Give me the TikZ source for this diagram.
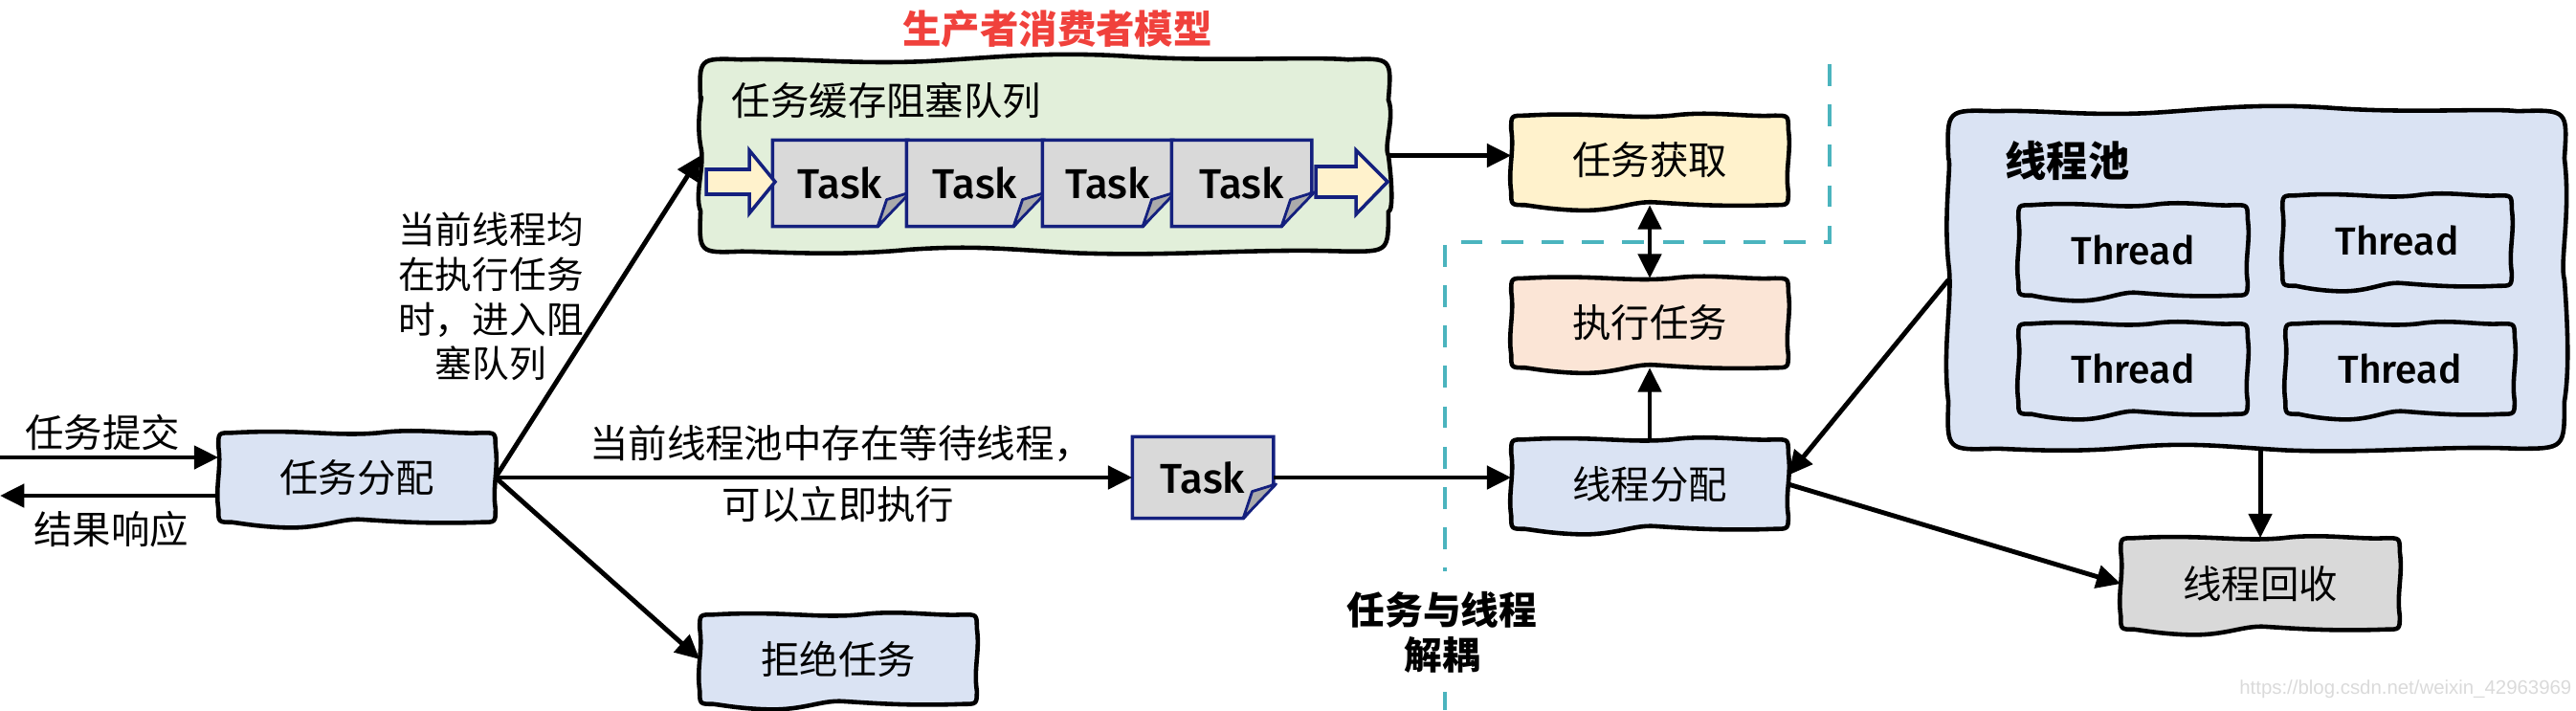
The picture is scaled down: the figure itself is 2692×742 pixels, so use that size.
\documentclass[tikz,border=0pt]{standalone}
\usepackage{fontspec}
\setmainfont{Noto Sans CJK SC}
\newfontfamily\comic{Fira Sans}[UprightFont={* Medium}]
\newfontfamily\wmfont{Liberation Sans}
\usetikzlibrary{arrows.meta,calc}
\pgfdeclarelayer{background}
\pgfsetlayers{background,main}
\definecolor{cblue}{HTML}{DAE3F3}
\definecolor{cgreen}{HTML}{E2EFDA}
\definecolor{cyellow}{HTML}{FFF2CC}
\definecolor{cpeach}{HTML}{FBE5D6}
\definecolor{cgray}{HTML}{D9D9D9}
\definecolor{navy}{HTML}{14207E}
\definecolor{tealdash}{HTML}{4BB4BE}
\definecolor{tred}{HTML}{F0413C}
\definecolor{foldgray}{HTML}{ABABAB}
\definecolor{wmgray}{HTML}{DADADA}
% hand-drawn box outline around a node
\newcommand{\skbox}[3][4pt]{%
 \path[skline, fill=#3] let \p1=(#2.south west), \p2=(#2.north east), \n1={\x2-\x1}, \n2={\y2-\y1}, \n3={#1} in
 (\x1,{\y2-\n3}) .. controls (\x1,\y2) .. ({\x1+\n3},\y2)
 .. controls ({\x1+0.3*\n1},{\y2+1.2pt}) and ({\x1+0.42*\n1},{\y2-1.2pt}) .. ({\x1+0.58*\n1},\y2)
 .. controls ({\x1+0.72*\n1},{\y2+1.5pt}) and ({\x1+0.85*\n1},{\y2-0.5pt}) .. ({\x2-\n3},\y2)
 .. controls (\x2,\y2) .. (\x2,{\y2-\n3})
 .. controls ({\x2+1pt},{\y2-0.4*\n2}) and ({\x2-1pt},{\y1+0.4*\n2}) .. (\x2,{\y1+\n3})
 .. controls (\x2,\y1) .. ({\x2-\n3},\y1)
 .. controls ({\x2-0.25*\n1},{\y1-0.6pt}) and ({\x1+0.62*\n1},{\y1+0.3pt}) .. ({\x1+0.52*\n1},{\y1+0.8pt})
 .. controls ({\x1+0.44*\n1},{\y1+1.3pt}) and ({\x1+0.38*\n1},{\y1-1.8pt}) .. ({\x1+0.25*\n1},{\y1-1.6pt})
 .. controls ({\x1+0.15*\n1},{\y1-1.4pt}) and ({\x1+0.08*\n1},{\y1-0.3pt}) .. ({\x1+\n3},\y1)
 .. controls (\x1,\y1) .. (\x1,{\y1+\n3})
 .. controls ({\x1-1pt},{\y1+0.4*\n2}) and ({\x1+1pt},{\y2-0.4*\n2}) .. (\x1,{\y2-\n3}) -- cycle;
}
% wavier outline for the large containers
\newcommand{\skbig}[3][8pt]{%
 \path[skline, fill=#3] let \p1=(#2.south west), \p2=(#2.north east), \n1={\x2-\x1}, \n2={\y2-\y1}, \n3={#1} in
 (\x1,{\y2-\n3}) .. controls ({\x1-0.5pt},{\y2+0.5pt}) .. ({\x1+\n3},\y2)
 .. controls ({\x1+0.15*\n1},{\y2+0.5pt}) and ({\x1+0.22*\n1},{\y2-1.5pt}) .. ({\x1+0.33*\n1},{\y2-0.5pt})
 .. controls ({\x1+0.42*\n1},{\y2+0.5pt}) and ({\x1+0.5*\n1},{\y2+2.5pt}) .. ({\x1+0.62*\n1},{\y2+1pt})
 .. controls ({\x1+0.75*\n1},{\y2-0.8pt}) and ({\x1+0.88*\n1},{\y2+1pt}) .. ({\x2-\n3},\y2)
 .. controls ({\x2+1pt},{\y2+0.5pt}) .. (\x2,{\y2-\n3})
 .. controls ({\x2+2pt},{\y2-0.3*\n2}) and ({\x2-1.5pt},{\y2-0.45*\n2}) .. (\x2,{\y1+0.5*\n2})
 .. controls ({\x2+1.5pt},{\y1+0.3*\n2}) and ({\x2+1pt},{\y1+0.2*\n2}) .. (\x2,{\y1+\n3})
 .. controls (\x2,\y1) .. ({\x2-\n3},\y1)
 .. controls ({\x2-0.2*\n1},{\y1+1pt}) and ({\x2-0.3*\n1},{\y1-1.5pt}) .. ({\x1+0.55*\n1},{\y1-0.5pt})
 .. controls ({\x1+0.45*\n1},{\y1+0.5pt}) and ({\x1+0.4*\n1},{\y1+2pt}) .. ({\x1+0.3*\n1},{\y1+0.5pt})
 .. controls ({\x1+0.2*\n1},{\y1-1.5pt}) and ({\x1+0.1*\n1},\y1) .. ({\x1+\n3},\y1)
 .. controls ({\x1-0.5pt},{\y1-0.5pt}) .. (\x1,{\y1+\n3})
 .. controls ({\x1-2pt},{\y1+0.3*\n2}) and ({\x1+1.5pt},{\y1+0.45*\n2}) .. (\x1,{\y1+0.55*\n2})
 .. controls ({\x1-1.5pt},{\y2-0.3*\n2}) and ({\x1+1pt},{\y2-0.15*\n2}) .. (\x1,{\y2-\n3}) -- cycle;
}
% task card with folded corner
\newcommand{\taskshape}[1]{%
 \path[draw=navy, line width=1pt, fill=cgray, line join=miter] let \p1=(#1.south west), \p2=(#1.north east) in
  (\x1,\y1) -- (\x1,\y2) -- (\x2,\y2) -- (\x2,{\y1+10.2pt}) -- ({\x2-9pt},\y1) -- cycle;
 \path[draw=navy, line width=0.8pt, fill=foldgray, line join=round] let \p1=(#1.south west), \p2=(#1.north east) in
  ({\x2+0.8pt},{\y1+10.2pt}) -- ({\x2-9pt},\y1) -- ({\x2-6.3pt},{\y1+8pt}) -- cycle;
}
\begin{document}
\begin{tikzpicture}[x=0.01cm,y=-0.01cm,
  lbl/.style={font=\fontsize{11.5pt}{14pt}\selectfont, inner sep=0pt},
  bx/.style={lbl, minimum width=2.88cm, minimum height=0.92cm},
  arr/.style={line width=1.4pt, -{Triangle[length=7.2pt,width=6.8pt]}},
  dblarr/.style={line width=1.4pt, {Triangle[length=7.2pt,width=6.8pt]}-{Triangle[length=7.2pt,width=6.8pt]}},
  skline/.style={draw=black, line width=1.3pt, line join=round},
  tk/.style={font=\comic\fontsize{12.4pt}{14pt}\selectfont, minimum width=1.40cm, minimum height=0.89cm, inner sep=0pt},
  th/.style={font=\comic\fontsize{11.6pt}{14pt}\selectfont, minimum width=2.38cm, minimum height=0.93cm, inner sep=0pt},
  hollow/.style={draw=navy, fill=cyellow, line width=1pt, line join=miter},
  divider/.style={draw=tealdash, line width=1.4pt, dash pattern=on 6.5pt off 5.5pt}
]
\useasboundingbox (0,0) rectangle (2692,742);

% boxes
\node[bx] (A) at (373,499) {任务分配};
\node[bx] (R) at (876,689) {拒绝任务};
\node[bx] (G) at (1724,167.5) {任务获取};
\node[bx] (E) at (1724,337.5) {执行任务};
\node[bx] (T) at (1724,506) {线程分配};
\node[bx, minimum width=2.90cm, minimum height=0.94cm] (W) at (2362,610) {线程回收};
\node[minimum width=7.17cm, minimum height=1.99cm, inner sep=0pt] (Q) at (1091.5,162.5) {};
\node[minimum width=6.42cm, minimum height=3.51cm, inner sep=0pt] (P) at (2358,292.5) {};

% threads
\node[th] (th1) at (2229,261.5) {Thread};
\node[th] (th2) at (2505,251.5) {Thread};
\node[th] (th3) at (2229,385.5) {Thread};
\node[th] (th4) at (2508,385.5) {Thread};

% tasks
\node[tk] (t1) at (878,191.5) {Task};
\node[tk, minimum width=1.42cm] (t2) at (1019,191.5) {Task};
\node[tk, minimum width=1.35cm] (t3) at (1157.5,191.5) {Task};
\node[tk, minimum width=1.45cm] (t4) at (1297.5,191.5) {Task};
\node[tk, minimum width=1.46cm, minimum height=0.84cm] (S) at (1257,499) {Task};

% labels
\node[lbl, text=tred, font={\fontsize{11.5pt}{14pt}\selectfont\bfseries}] (title) at (1105,30) {生产者消费者模型};
\node[lbl, anchor=west] (ql) at (764,105) {任务缓存阻塞队列};
\node[lbl, anchor=west, font={\fontsize{12.3pt}{14pt}\selectfont\bfseries}] (pl) at (2095,168) {线程池};
\node[lbl] (l1) at (107,452) {任务提交};
\node[lbl] (l2) at (116,553) {结果响应};
\node[lbl, align=center, font={\fontsize{11pt}{13.3pt}\selectfont}] (l3) at (513,310) {当前线程均\\在执行任务\\时，进入阻\\塞队列};
\node[lbl] (l4) at (879,464) {当前线程池中存在等待线程，};
\node[lbl] (l5) at (876,527) {可以立即执行};
\node[lbl, align=center, font={\fontsize{11.3pt}{13.4pt}\selectfont\bfseries}] (l6) at (1507,661) {任务与线程\\解耦};
\node[anchor=east, text=wmgray, font={\wmfont\fontsize{5.8pt}{7pt}\selectfont}, inner sep=0pt] (wm) at (2688,720) {https://blog.csdn.net/weixin\_42963969};

% background shapes
\begin{pgfonlayer}{background}
\skbox{A}{cblue}
\skbox{R}{cblue}
\skbox{G}{cyellow}
\skbox{E}{cpeach}
\skbox{T}{cblue}
\skbox{W}{cgray}
\skbig[12pt]{Q}{cgreen}
\skbig[14pt]{P}{cblue}
\skbox{th1}{cblue}
\skbox{th2}{cblue}
\skbox{th3}{cblue}
\skbox{th4}{cblue}
\taskshape{t1}
\taskshape{t2}
\taskshape{t3}
\taskshape{t4}
\taskshape{S}
\end{pgfonlayer}

% hollow queue arrows
\path[hollow] (738,177) -- (783,177) -- (783,157) -- (810,190) -- (783,223) -- (783,203) -- (738,203) -- cycle;
\path[hollow] (1375,174) -- (1417,174) -- (1417,157) -- (1450,190) -- (1417,224) -- (1417,206) -- (1375,206) -- cycle;

% divider
\draw[divider] (1912,67) -- (1912,253) -- (1510,253) -- (1510,597);
\draw[divider] (1510,723) -- (1510,742);

% connectors
\coordinate (in0) at (0,478);
\coordinate (out0) at (0,518);
\draw[arr] (in0) -- (in0 -| A.west);
\draw[arr] (A.west |- out0) -- (out0);
\draw[arr] (A.east) -- (Q.west);
\draw[arr] (A.east) -- (S.west);
\draw[arr] (A.east) -- (R.west);
\draw[arr] (S.east) -- (S.east -| T.west);
\draw[arr] (Q.east) -- (Q.east -| G.west);
\draw[dblarr] (G.south) -- (E.north);
\draw[arr] (T.north) -- (E.south);
\draw[arr] (P.west) -- ($(T.north east)!0.4!(T.south east)$);
\draw[arr] (T.east) -- (W.west);
\draw[arr] (W.north |- P.south) -- (W.north);
\end{tikzpicture}
\end{document}
